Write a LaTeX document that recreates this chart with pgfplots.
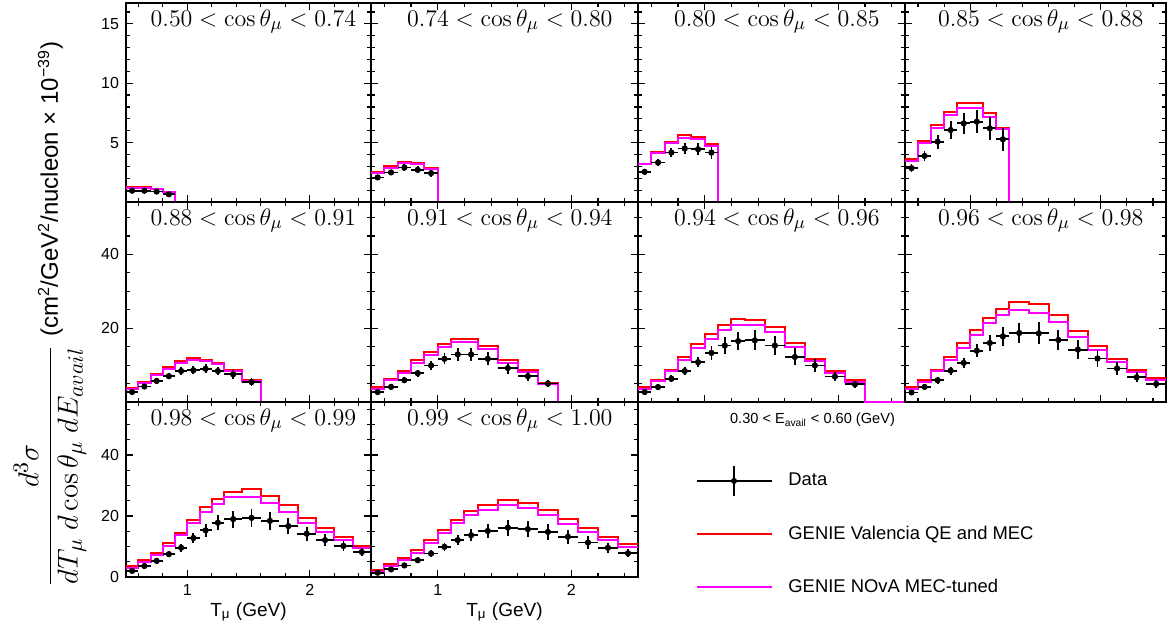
\documentclass[border=0pt]{standalone}
\usepackage[no-math]{fontspec}
\setmainfont{Liberation Sans}
\usepackage{pgfplots}
\usepackage{pgfplotstable}
\pgfplotsset{compat=1.18}

\definecolor{rootred}{RGB}{255,0,0}
\definecolor{rootmag}{RGB}{255,0,255}

% bins of T_mu: 0.1 GeV up to 1.3, then 0.15 GeV up to 2.5
% columns: bin low, bin high, Valencia, NOvA tune, data, data error
\pgfplotstableread{
lo hi red mag dat err
0.5 0.6 1.25 1.20 0.95 0.12
0.6 0.7 1.25 1.20 0.95 0.12
0.7 0.8 1.12 1.10 0.88 0.12
0.8 0.9 0.88 0.85 0.65 0.12
0.9 0.9 0 0 nan nan
2.5 2.5 0 0 nan nan
}\tA
\pgfplotstableread{
lo hi red mag dat err
0.5 0.6 2.54 2.43 2.07 0.20
0.6 0.7 3.04 2.90 2.49 0.22
0.7 0.8 3.38 3.27 2.90 0.28
0.8 0.9 3.32 3.24 2.71 0.30
0.9 1.0 2.82 2.77 2.43 0.30
1.0 1.0 0 0 nan nan
2.5 2.5 0 0 nan nan
}\tB
\pgfplotstableread{
lo hi red mag dat err
0.5 0.6 3.24 3.16 2.54 0.25
0.6 0.7 4.25 4.10 3.32 0.30
0.7 0.8 5.06 4.94 4.16 0.40
0.8 0.9 5.61 5.42 4.50 0.45
0.9 1.0 5.50 5.34 4.44 0.50
1.0 1.1 4.86 4.72 4.16 0.50
1.1 1.1 0 0 nan nan
2.5 2.5 0 0 nan nan
}\tC
\pgfplotstableread{
lo hi red mag dat err
0.5 0.6 3.63 3.46 2.85 0.35
0.6 0.7 5.17 5.00 3.88 0.45
0.7 0.8 6.48 6.20 5.08 0.60
0.8 0.9 7.60 7.32 6.06 0.75
0.9 1.0 8.35 7.88 6.62 0.90
1.0 1.1 8.35 7.93 6.76 0.95
1.1 1.2 7.46 7.12 6.20 0.95
1.2 1.3 6.26 6.15 5.28 0.95
1.3 1.3 0 0 nan nan
2.5 2.5 0 0 nan nan
}\tD
\pgfplotstableread{
lo hi red mag dat err
0.5 0.6 3.9 3.6 2.7 0.5
0.6 0.7 5.4 5.1 4.2 0.6
0.7 0.8 7.7 7.4 5.7 0.7
0.8 0.9 9.5 9.0 7.0 0.9
0.9 1.0 11.2 10.6 8.4 1.0
1.0 1.1 12.0 11.4 8.6 1.1
1.1 1.2 11.5 11.0 9.0 1.2
1.2 1.3 10.5 10.3 8.4 1.2
1.3 1.45 8.6 8.4 7.5 1.2
1.45 1.6 5.9 5.7 5.4 1.0
1.6 1.6 0 0 nan nan
2.5 2.5 0 0 nan nan
}\tE
\pgfplotstableread{
lo hi red mag dat err
0.5 0.6 4.1 3.6 2.7 0.5
0.6 0.7 6.1 5.9 4.1 0.6
0.7 0.8 8.4 7.9 5.9 0.8
0.8 0.9 11.3 10.5 7.8 1.0
0.9 1.0 13.5 12.8 9.9 1.2
1.0 1.1 15.8 14.9 11.7 1.5
1.1 1.2 17.1 16.2 12.9 1.7
1.2 1.3 17.1 16.2 12.9 1.8
1.3 1.45 15.1 14.4 11.7 1.8
1.45 1.6 11.3 10.6 9.2 1.5
1.6 1.75 8.6 8.1 7.0 1.2
1.75 1.9 5.1 5.0 5.0 0.9
1.9 1.9 0 0 nan nan
2.5 2.5 0 0 nan nan
}\tF
\pgfplotstableread{
lo hi red mag dat err
0.5 0.6 4.05 3.6 2.7 0.6
0.6 0.7 6.0 5.7 4.05 0.7
0.7 0.8 8.8 8.4 6.3 0.9
0.8 0.9 12.2 11.4 8.4 1.1
0.9 1.0 15.6 14.7 10.8 1.4
1.0 1.1 18.5 17.1 13.3 1.8
1.1 1.2 21.0 19.5 15.3 2.2
1.2 1.3 22.5 21.0 16.5 2.5
1.3 1.45 22.3 20.8 16.7 2.7
1.45 1.6 20.3 18.9 15.3 2.6
1.6 1.75 16.0 14.9 12.2 2.3
1.75 1.9 11.7 11.1 9.9 1.8
1.9 2.05 8.4 7.8 6.9 1.3
2.05 2.2 5.9 5.4 4.8 1.0
2.2 2.2 0 0 nan nan
2.5 2.5 0 0 nan nan
}\tG
\pgfplotstableread{
lo hi red mag dat err
0.5 0.6 4.0 3.5 2.6 0.6
0.6 0.7 5.9 5.5 4.1 0.7
0.7 0.8 8.8 8.4 5.9 0.9
0.8 0.9 12.1 11.4 8.5 1.1
0.9 1.0 15.9 14.5 10.6 1.4
1.0 1.1 19.6 18.1 13.9 1.8
1.1 1.2 22.9 21.3 16.0 2.2
1.2 1.3 25.3 23.5 17.8 2.5
1.3 1.45 27.1 25.0 18.7 2.8
1.45 1.6 26.5 24.1 18.6 3.0
1.6 1.75 23.5 21.7 16.8 2.8
1.75 1.9 19.2 17.7 14.2 2.5
1.9 2.05 15.3 14.2 11.8 2.2
2.05 2.2 11.6 10.9 9.1 1.8
2.2 2.35 8.6 8.2 6.7 1.4
2.35 2.5 6.4 5.9 4.9 1.1
2.5 2.5 6.4 5.9 nan nan
}\tH
\pgfplotstableread{
lo hi red mag dat err
0.5 0.6 3.6 3.1 2.0 0.5
0.6 0.7 5.5 4.9 3.6 0.7
0.7 0.8 7.9 7.3 5.3 0.9
0.8 0.9 11.0 10.1 7.5 1.1
0.9 1.0 14.5 13.7 9.6 1.3
1.0 1.1 18.8 17.8 12.8 1.7
1.1 1.2 23.0 21.4 15.3 2.1
1.2 1.3 25.6 24.1 17.8 2.5
1.3 1.45 27.9 26.1 19.0 2.8
1.45 1.6 28.8 26.3 19.4 3.0
1.6 1.75 26.5 24.3 18.4 2.9
1.75 1.9 23.6 21.4 16.7 2.6
1.9 2.05 19.5 17.8 14.2 2.3
2.05 2.2 16.1 14.8 12.1 2.0
2.2 2.35 13.2 12.3 10.2 1.6
2.35 2.5 10.2 9.6 8.2 1.3
2.5 2.5 10.2 9.6 nan nan
}\tI
\pgfplotstableread{
lo hi red mag dat err
0.5 0.6 2.2 1.8 1.4 0.4
0.6 0.7 4.2 3.6 2.5 0.5
0.7 0.8 6.1 5.6 3.8 0.7
0.8 0.9 8.8 8.0 5.5 0.9
0.9 1.0 12.1 11.3 7.7 1.1
1.0 1.1 15.3 14.4 9.9 1.4
1.1 1.2 18.6 17.6 12.1 1.7
1.2 1.3 21.7 20.3 13.7 2.0
1.3 1.45 23.7 22.0 15.1 2.4
1.45 1.6 25.3 23.6 16.2 2.6
1.6 1.75 24.2 22.5 15.7 2.6
1.75 1.9 22.0 20.4 14.8 2.5
1.9 2.05 19.0 17.3 13.2 2.3
2.05 2.2 16.0 14.9 11.3 2.0
2.2 2.35 13.2 12.1 9.6 1.6
2.35 2.5 10.7 9.9 7.8 1.3
2.5 2.5 10.7 9.9 nan nan
}\tJ

\tikzset{ttl/.style={anchor=north, inner sep=0pt, yshift=-3pt,
    font=\fontsize{13}{15}\selectfont}}

\pgfplotsset{
  panel/.style={
    scale only axis, anchor=south west, clip=false,
    xmin=0.5, xmax=2.5,
    xtick={1,2}, minor xtick={0.6,0.8,1.2,1.4,1.6,1.8,2.2,2.4},
    tick align=inside,
    axis line style={line width=0.8pt},
    major tick length=3.5pt, minor tick length=1.8pt,
    every tick/.style={black, line width=0.6pt},
    tick label style={font=\fontsize{8}{9}\selectfont},
    /pgf/number format/assume math mode=true,
  },
  toprow/.style={ymin=0, ymax=16.75, ytick={5,10,15},
    minor ytick={1,2,3,4,6,7,8,9,11,12,13,14,16}, xticklabels={}, height=99.5pt},
  midrow/.style={ymin=0, ymax=54.2, ytick={20,40},
    minor ytick={5,10,15,25,30,35,45,50}, xticklabels={}, height=100pt},
  botrow/.style={ymin=0, ymax=57.4, ytick={0,20,40},
    minor ytick={5,10,15,25,30,35,45,50,55}, height=87.5pt,
    xlabel={T\textsubscript{μ} (GeV)},
    xlabel style={font=\fontsize{9.5}{11}\selectfont, yshift=3pt}},
  noylab/.style={yticklabels={}},
  hist/.style={line width=1pt, const plot, mark=none},
  datalegend/.style={legend image code/.code={
    \draw[black, line width=0.9pt] (0pt,0pt) -- (37.5pt,0pt);
    \draw[black, line width=0.9pt, overlay] (18.75pt,-7.5pt) -- (18.75pt,7.5pt);
    \fill[black] (18.75pt,0pt) circle (1.3pt);}},
  linelegend/.style={legend image code/.code={
    \draw[##1] (0pt,0pt) -- (37.5pt,0pt);}},
}

% #1 axis options, #2 table, #3 title
\newcommand{\panel}[3]{%
\begin{axis}[panel, #1]
\addplot[draw=rootred, hist] table[x=lo, y=red] {#2};
\addplot[draw=rootmag, hist] table[x=lo, y=mag] {#2};
\addplot[only marks, mark=*, mark size=1.35pt, mark options={draw=black, fill=black},
  error bars/.cd, x dir=both, x explicit, y dir=both, y explicit,
  error mark=none, error bar style={draw=black, line width=0.9pt}]
  table[x expr={(\thisrow{lo}+\thisrow{hi})/2}, y=dat,
        x error expr={(\thisrow{hi}-\thisrow{lo})/2}, y error=err] {#2};
\node[ttl] at (rel axis cs:0.52,1) {#3};
\end{axis}}

\begin{document}
\begin{tikzpicture}
\useasboundingbox (0,0) rectangle (583.5pt,311pt);

% row 1
\panel{toprow, at={(63pt,210pt)}, width=122.5pt}{\tA}{$0.50 < \cos\theta_{\mu} < 0.74$}
\panel{toprow, noylab, at={(185.5pt,210pt)}, width=133.5pt}{\tB}{$0.74 < \cos\theta_{\mu} < 0.80$}
\panel{toprow, noylab, at={(319pt,210pt)}, width=133.5pt}{\tC}{$0.80 < \cos\theta_{\mu} < 0.85$}
\panel{toprow, noylab, at={(452.5pt,210pt)}, width=130.5pt}{\tD}{$0.85 < \cos\theta_{\mu} < 0.88$}
% row 2
\panel{midrow, at={(63pt,110pt)}, width=122.5pt}{\tE}{$0.88 < \cos\theta_{\mu} < 0.91$}
\panel{midrow, noylab, at={(185.5pt,110pt)}, width=133.5pt}{\tF}{$0.91 < \cos\theta_{\mu} < 0.94$}
\panel{midrow, noylab, at={(319pt,110pt)}, width=133.5pt}{\tG}{$0.94 < \cos\theta_{\mu} < 0.96$}
\panel{midrow, noylab, at={(452.5pt,110pt)}, width=130.5pt}{\tH}{$0.96 < \cos\theta_{\mu} < 0.98$}
% row 3
\panel{botrow, at={(63pt,22.5pt)}, width=122.5pt}{\tI}{$0.98 < \cos\theta_{\mu} < 0.99$}
\panel{botrow, noylab, at={(185.5pt,22.5pt)}, width=133.5pt}{\tJ}{$0.99 < \cos\theta_{\mu} < 1.00$}

% legend area
\begin{axis}[at={(319pt,0pt)}, anchor=south west, scale only axis,
  width=264pt, height=110pt, hide axis,
  xmin=0, xmax=1, ymin=0, ymax=1,
  legend cell align=left,
  legend style={draw=none, fill=none, at={(rel axis cs:0.097,0.715)},
    anchor=north west, row sep=14.5pt,
    font=\fontsize{9.2}{11}\selectfont,
    /tikz/every odd column/.style={column sep=6pt}}]
\addlegendimage{datalegend}
\addlegendentry{Data}
\addlegendimage{linelegend, rootred, line width=0.9pt}
\addlegendentry{GENIE Valencia QE and MEC}
\addlegendimage{linelegend, rootmag, line width=0.9pt}
\addlegendentry{GENIE NOvA MEC-tuned}
\node[anchor=west, font=\fontsize{7.3}{8}\selectfont] at (rel axis cs:0.161,0.918)
  {0.30 < E\textsubscript{avail} < 0.60 (GeV)};
\end{axis}

% common y label
\node[rotate=90, anchor=center, inner sep=0pt] at (25pt,154pt)
  {\fontsize{15}{17}\selectfont
   $\displaystyle\frac{d^{3}\sigma}{dT_{\mu}\;d\cos\theta_{\mu}\;dE_{avail}}$\;%
   {\fontsize{12}{14}\selectfont (cm\textsuperscript{2}/GeV\textsuperscript{2}/nucleon × 10\textsuperscript{−39})}};
\end{tikzpicture}
\end{document}
